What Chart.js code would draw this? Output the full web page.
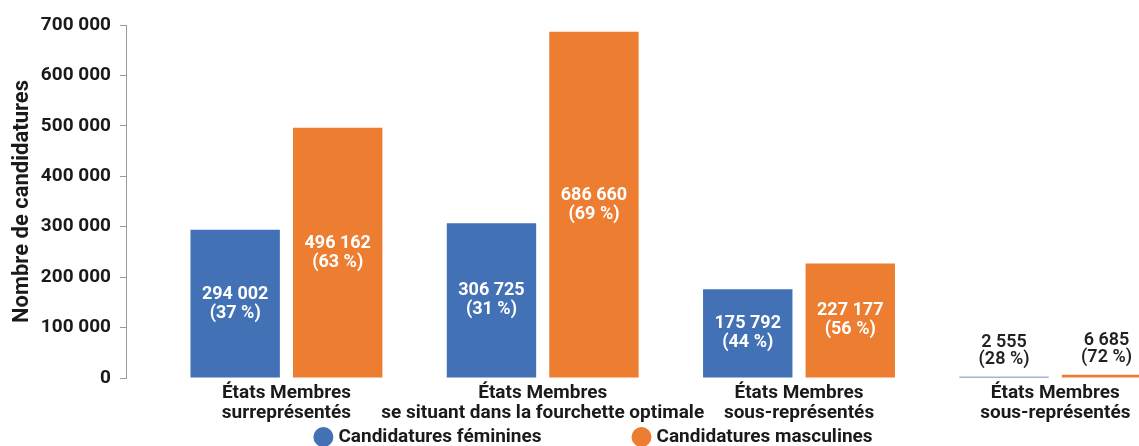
<!DOCTYPE html>
<html><head><meta charset="utf-8">
<script src="https://cdn.jsdelivr.net/npm/chart.js@4.4.1/dist/chart.umd.min.js"></script>
<style>
html,body{margin:0;padding:0;background:#fff;overflow:hidden;}
#wrap{position:relative;width:1186px;height:446px;}
</style></head><body>
<div id="wrap"><canvas id="c"></canvas></div>
<script>
const categories = [
  ['États Membres', 'surreprésentés'],
  ['États Membres', 'se situant dans la fourchette optimale'],
  ['États Membres', 'sous-représentés'],
  ['États Membres', 'sous-représentés']
];
const seriesNames = ['Candidatures féminines', 'Candidatures masculines'];
const female = [294002, 306725, 175792, 2555];
const male = [496162, 686660, 227177, 6685];
const femalePct = [37, 31, 44, 28];
const malePct = [63, 69, 56, 72];
const yMin = 0, yMax = 700000, yStep = 100000;
const yAxisTitle = 'Nombre de candidatures';

const colors = ['#4271B6', '#ED7D31'];
const textColor = '#1a1a1a';
const FONT = 'Roboto';

function fmt(n) { return String(n).replace(/\B(?=(\d{3})+(?!\d))/g, ' '); }

const valueLabels = {
  id: 'valueLabels',
  afterDatasetsDraw(chart) {
    const ctx = chart.ctx;
    chart.data.datasets.forEach((ds, di) => {
      const meta = chart.getDatasetMeta(di);
      meta.data.forEach((bar, i) => {
        const lines = [fmt(ds.data[i].y), '(' + ds.pct[i] + ' %)'];
        const h = bar.base - bar.y;
        ctx.save();
        ctx.textAlign = 'center';
        ctx.textBaseline = 'middle';
        if (h > 50) {
          ctx.fillStyle = '#ffffff';
          ctx.font = 'bold 18px ' + FONT;
          const cy = (bar.y + bar.base) / 2;
          ctx.fillText(lines[0], bar.x, cy - 9.5);
          ctx.fillText(lines[1], bar.x, cy + 9.5);
        } else {
          ctx.fillStyle = '#222222';
          ctx.font = '600 18px ' + FONT;
          ctx.fillText(lines[0], bar.x, bar.y - 34);
          ctx.fillText(lines[1], bar.x, bar.y - 17);
        }
        ctx.restore();
      });
    });
  }
};

const customLegend = {
  id: 'customLegend',
  afterDraw(chart) {
    const ctx = chart.ctx;
    ctx.save();
    ctx.font = 'bold 19px ' + FONT;
    ctx.textBaseline = 'middle';
    ctx.textAlign = 'left';
    const r = 10, gapText = 5, gapItem = 90, y = 437;
    const widths = seriesNames.map(t => ctx.measureText(t).width);
    let total = 0;
    widths.forEach((w, i) => { total += 2 * r + gapText + w + (i ? gapItem : 0); });
    let x = chart.width / 2 - total / 2;
    seriesNames.forEach((t, i) => {
      ctx.fillStyle = colors[i];
      ctx.beginPath();
      ctx.arc(x + r, y, r, 0, Math.PI * 2);
      ctx.fill();
      ctx.fillStyle = textColor;
      ctx.fillText(t, x + 2 * r + gapText, y);
      x += 2 * r + gapText + widths[i] + gapItem;
    });
    ctx.restore();
  }
};

Chart.defaults.font.family = FONT;

new Chart(document.getElementById('c'), {
  type: 'bar',
  data: {
    datasets: [
      { label: seriesNames[0], data: categories.map((c, i) => ({ x: i, y: female[i] })), pct: femalePct,
        backgroundColor: colors[0], categoryPercentage: 0.8, barPercentage: 0.872 },
      { label: seriesNames[1], data: categories.map((c, i) => ({ x: i, y: male[i] })), pct: malePct,
        backgroundColor: colors[1], categoryPercentage: 0.8, barPercentage: 0.872 }
    ]
  },
  options: {
    responsive: true,
    maintainAspectRatio: false,
    animation: false,
    layout: { padding: { top: 25, right: 0, bottom: 0, left: 0 } },
    plugins: { legend: { display: false }, tooltip: { enabled: false } },
    scales: {
      x: {
        type: 'linear',
        min: -0.626, max: 3.51,
        offset: false,
        grid: { display: false, drawTicks: false },
        border: { display: false },
        ticks: {
          stepSize: 1, autoSkip: false, maxRotation: 0, minRotation: 0, includeBounds: false,
          padding: 5, color: textColor,
          font: { size: 19, weight: 'bold', lineHeight: 1.05 },
          callback: (v) => (Number.isInteger(v) && categories[v]) ? categories[v] : ''
        },
        afterFit(s) { s.height = 68; }
      },
      y: {
        min: yMin, max: yMax,
        ticks: { stepSize: yStep, padding: 9, color: textColor, font: { size: 19, weight: 'bold' }, callback: (v) => fmt(v) },
        grid: { drawOnChartArea: false, drawTicks: true, tickLength: 6, color: '#999999' },
        border: { display: true, color: '#999999' },
        title: { display: true, text: yAxisTitle, color: textColor, font: { size: 22, weight: 'bold' }, padding: { top: 9, bottom: 0 } },
        afterFit(s) { s.width = 126; }
      }
    }
  },
  plugins: [valueLabels, customLegend]
});
</script>
</body></html>
